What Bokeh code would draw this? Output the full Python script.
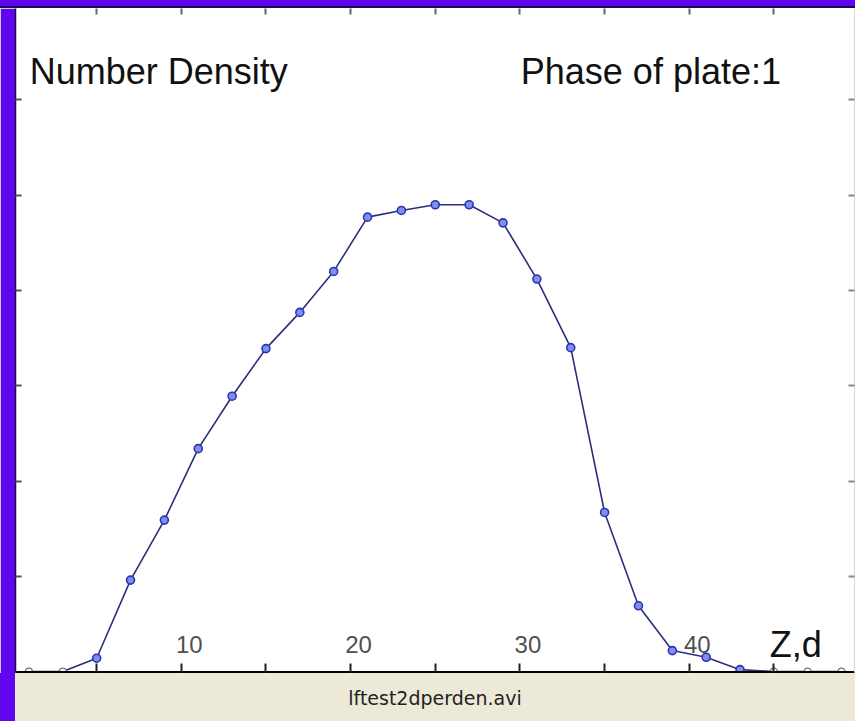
from bokeh.plotting import figure
from bokeh.models import LinearAxis, FixedTicker, Label, Div, Range1d
from bokeh.layouts import column
from bokeh.embed import file_html
from bokeh.resources import INLINE
from bokeh.core.properties import value

# ---- data ----
z = [1, 3, 5, 7, 9, 11, 13, 15, 17, 19, 21, 23, 25, 27, 29, 31, 33, 35, 37, 39, 41, 43, 45, 47, 49]
density = [0.0, 0.0, 0.14, 0.96, 1.59, 2.34, 2.89, 3.39, 3.77, 4.20, 4.77, 4.84, 4.90, 4.90, 4.71,
           4.12, 3.40, 1.67, 0.69, 0.22, 0.15, 0.02, 0.0, 0.0, 0.0]
x_tick_labels = [10, 20, 30, 40]
x_ticks = [5, 10, 15, 20, 25, 30, 35, 40, 45]
y_ticks = [1, 2, 3, 4, 5, 6]
title_left = "Number Density"
title_right = "Phase of plate:1"
axis_name = "Z,d"
file_name = "lftest2dperden.avi"

PURPLE = "#5F06EE"
BEIGE = "#ECE9D8"

p = figure(width=855, height=665, output_backend="svg", toolbar_location=None,
           x_range=Range1d(0.207, 49.76), y_range=Range1d(-0.01, 6.96),
           x_axis_location=None, y_axis_location=None,
           min_border_left=15, min_border_right=1, min_border_top=0, min_border_bottom=1)
p.background_fill_color = "white"
p.border_fill_color = PURPLE
p.outline_line_color = None
p.grid.visible = False

def style_axis(ax, line_color, line_width, tick_color, tick_len, ticks):
    ax.ticker = FixedTicker(ticks=ticks, minor_ticks=[])
    ax.axis_line_color = line_color
    ax.axis_line_width = line_width
    ax.major_tick_line_color = tick_color
    ax.major_tick_line_width = 2
    ax.major_tick_in = tick_len
    ax.major_tick_out = 0
    ax.minor_tick_line_color = None
    ax.major_label_text_font_size = "0px"
    ax.major_label_text_color = None
    ax.major_label_standoff = 0
    ax.axis_label = None

bottom = LinearAxis()
style_axis(bottom, "black", 3, "#222222", 9, x_ticks)
p.add_layout(bottom, "below")

top = LinearAxis()
style_axis(top, None, 1, "#666666", 6, x_ticks)
p.add_layout(top, "above")

left = LinearAxis()
style_axis(left, "#1a0a50", 1.5, "#555555", 6, y_ticks)
p.add_layout(left, "left")

right = LinearAxis()
style_axis(right, "#d8d8d8", 1, "#888888", 6, y_ticks)
p.add_layout(right, "right")

# curve
p.line(z, density, line_color="#2b2f7a", line_width=1.6)

blue_x = [a for a, b in zip(z, density) if b > 0]
blue_y = [b for b in density if b > 0]
zero_x = [a for a, b in zip(z, density) if b == 0]
zero_y = [b for b in density if b == 0]
p.scatter(blue_x, blue_y, size=8, marker="circle", fill_color="#7f8ff0",
          line_color="#2a35b0", line_width=1.6)
p.scatter(zero_x, zero_y, size=7, marker="circle", fill_color="white",
          line_color="#777777", line_width=1.2)

# tick labels drawn inside the plot just above the axis
p.text(x=x_tick_labels, y=[0] * len(x_tick_labels), text=[str(t) for t in x_tick_labels],
       x_offset=8, y_offset=-27, text_align="center", text_baseline="alphabetic",
       text_font=value("Liberation Sans"), text_font_size="24px", text_color="#505050")

font = "Liberation Sans"
p.add_layout(Label(x=1.05, y=6.30, text=title_left, text_font=font, text_font_size="36px",
                   text_color="#111111", text_baseline="alphabetic", text_align="left"))
p.add_layout(Label(x=30.05, y=6.30, text=title_right, text_font=font, text_font_size="36px",
                   text_color="#111111", text_baseline="alphabetic", text_align="left"))
p.add_layout(Label(x=44.75, y=0.28, text=axis_name, text_font=font, text_font_size="36px",
                   text_color="#111111", text_baseline="alphabetic", text_align="left"))

top_bar = Div(text="", width=855, height=8, margin=0,
              styles={"background-color": PURPLE, "border-bottom": "2px solid #1a0a50",
                      "box-sizing": "border-box", "width": "855px", "height": "8px"})

strip = Div(text=file_name, width=855, height=48, margin=0,
            styles={"background-color": BEIGE, "border-left": "15px solid " + PURPLE,
                    "box-sizing": "border-box", "text-align": "center",
                    "font-family": "DejaVu Sans", "font-size": "19px",
                    "line-height": "50px", "color": "#222222", "width": "855px",
                    "height": "48px"})

layout = column(top_bar, p, strip, spacing=0)
open("out.html", "w").write(file_html(layout, INLINE))
